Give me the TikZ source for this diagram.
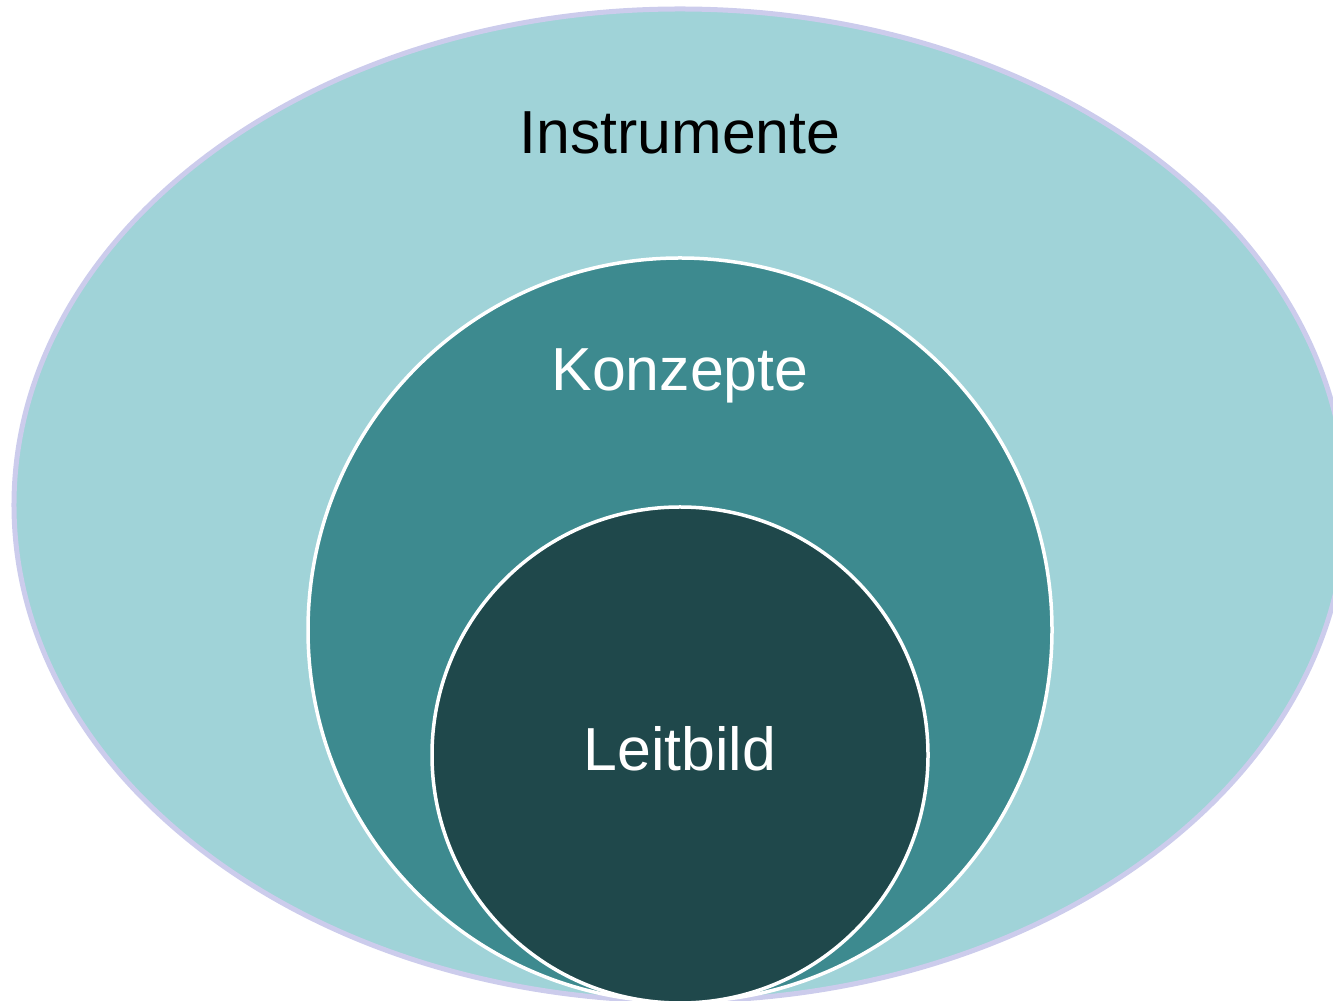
\documentclass[tikz,border=0pt]{standalone}
\usepackage{fontspec}
\setmainfont{Liberation Sans}
\usetikzlibrary{shapes.geometric,positioning}
\definecolor{outerfill}{HTML}{A0D3D8}
\definecolor{outerline}{HTML}{CCCCEC}
\definecolor{midfill}{HTML}{3D8A8F}
\definecolor{innerfill}{HTML}{1F484B}

\begin{document}
\begin{tikzpicture}[x=1bp,y=1bp,
    ring/.style = {circle, inner sep=0pt, draw=white, line width=3.5bp},
    label text/.style = {font=\fontsize{61}{70}\selectfont}
  ]
  \useasboundingbox (0,0) rectangle (1333,1000);
  %% Ebenen
  \node (instrumente) [ellipse, inner sep=0pt, fill=outerfill, draw=outerline,
    line width=5bp, minimum width=1332bp, minimum height=992bp] at (680,495) {};
  \node (konzepte) [ring, fill=midfill, minimum size=744bp] at (680,370) {};
  \node (leitbild) [ring, fill=innerfill, minimum size=496bp] at (680,245) {};
  %% Texte
  \node [label text, text=black] at (680,867) {Instrumente};
  \node [label text, text=white] at (680,624) {Konzepte};
  \node [label text, text=white] at (leitbild.center) [yshift=6bp] {Leitbild};
\end{tikzpicture}
\end{document}
